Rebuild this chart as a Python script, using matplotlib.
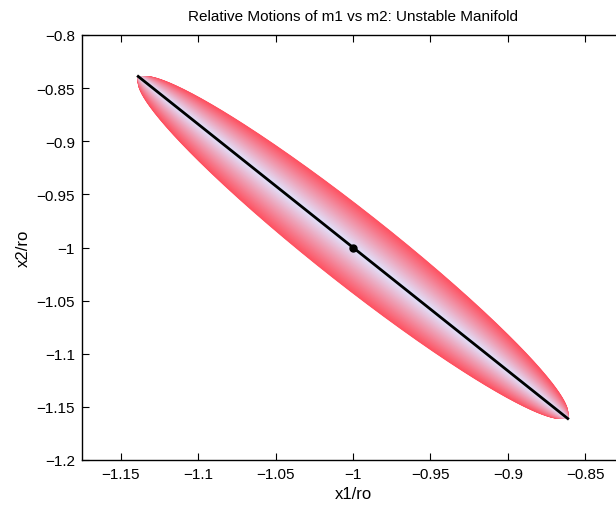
import numpy as np
import matplotlib.pyplot as plt
from matplotlib.colors import LinearSegmentedColormap

plt.rcParams['font.family'] = ['Liberation Sans', 'DejaVu Sans']

# equilibrium point and oscillation amplitudes (x1/ro, x2/ro)
centre = [-1.0, -1.0]
ampX1 = 0.1387
ampX2 = 0.161
# phase lag between x1 and x2 for each trajectory (degrees)
phaseLagsDeg = np.linspace(0.0, 15.5, 90)

xTicks = [-1.15, -1.1, -1.05, -1.0, -0.95, -0.9, -0.85]
yTicks = [-1.2, -1.15, -1.1, -1.05, -1.0, -0.95, -0.9, -0.85, -0.8]
xTickLabels = ['\u22121.15', '\u22121.1', '\u22121.05', '\u22121', '\u22120.95', '\u22120.9', '\u22120.85']
yTickLabels = ['\u22121.2', '\u22121.15', '\u22121.1', '\u22121.05', '\u22121', '\u22120.95', '\u22120.9', '\u22120.85', '\u22120.8']

fig = plt.figure(figsize=(6.16, 5.06), dpi=100)
ax = fig.add_axes([82 / 616, 45 / 506, 542 / 616, 425 / 506])

cmap = LinearSegmentedColormap.from_list('manifold', [(0.88, 0.89, 1.0), (1.0, 0.3, 0.36)])
t = np.linspace(0, 2 * np.pi, 400)
# draw outer (red) first, inner (light) on top
for i in range(len(phaseLagsDeg) - 1, -1, -1):
    phi = np.radians(phaseLagsDeg[i])
    x = centre[0] - ampX1 * np.cos(t)
    y = centre[1] + ampX2 * np.cos(t - phi)
    ax.plot(x, y, color=cmap(i / (len(phaseLagsDeg) - 1)), linewidth=0.6)

ax.plot([centre[0] - ampX1, centre[0] + ampX1], [centre[1] + ampX2, centre[1] - ampX2],
        color='black', linewidth=2)
ax.plot(centre[0], centre[1], 'o', color='black', markersize=5)

ax.set_xlim(-1.175, -0.825)
ax.set_ylim(-1.2, -0.8)
ax.set_xticks(xTicks)
ax.set_xticklabels(xTickLabels)
ax.set_yticks(yTicks)
ax.set_yticklabels(yTickLabels)
for spine in ax.spines.values():
    spine.set_linewidth(1.0)
ax.tick_params(direction='in', top=True, right=True, length=5, width=0.8, labelsize=11, pad=5)
ax.set_xlabel('x1/ro', fontsize=12, labelpad=4)
ax.set_ylabel('x2/ro', fontsize=12, labelpad=4)
ax.set_title('Relative Motions of m1 vs m2: Unstable Manifold', fontsize=11, pad=11)

fig.savefig('out.png', dpi=100)
